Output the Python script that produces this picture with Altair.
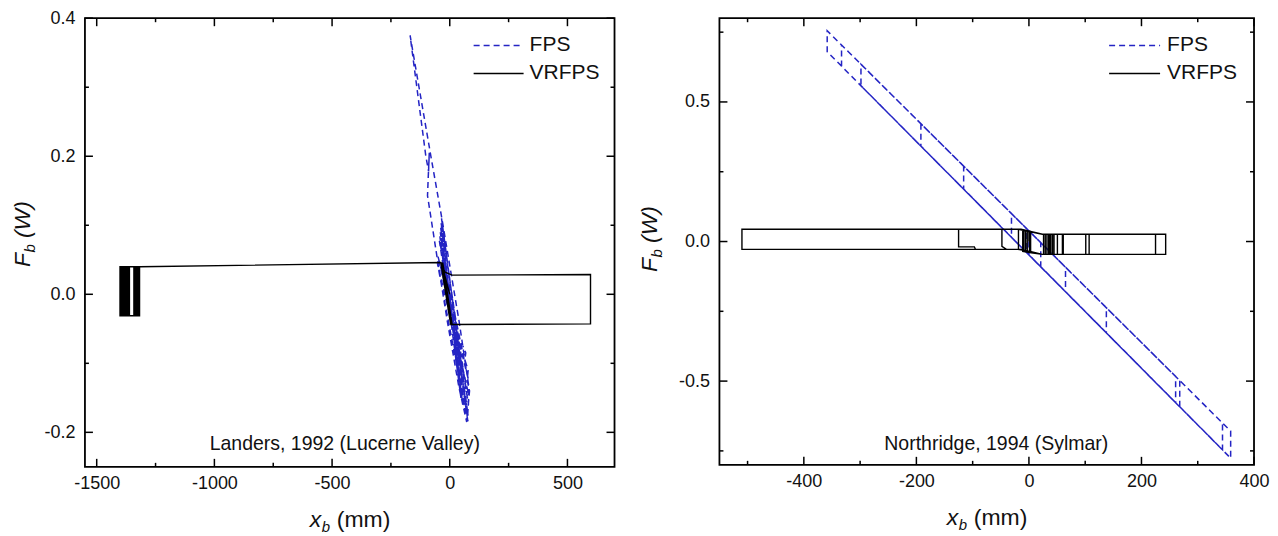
import altair as alt
import pandas as pd

FONT = "Liberation Sans"
BLUE = "#2424c4"
INK = "#111111"

# ---------------- Landers, 1992 (Lucerne Valley) ----------------
LANDERS_FPS_X = [0, 80, -37, 55, -40, 77, -35, 78, -42, 47.5, -38.5, 65, -44, 80, -50, 80, -52.5, 75,
                 82, 40, -31, -80.7, -168.5, -130, -102, -90, -87, -92, -94.5, -50, -9.9, 39.7, 72,
                 84, 74, 78, 64, 68, 56]
LANDERS_FPS_F = [0.000, -0.160, 0.104, -0.160, 0.090, -0.184, 0.110, -0.176, 0.084, -0.150, 0.097, -0.170,
                 0.0775, -0.125, 0.055, -0.145, 0.045, -0.184,
                 -0.136, -0.040, 0.105, 0.201, 0.375, 0.274, 0.201, 0.178, 0.205, 0.165, 0.143, 0.045,
                 -0.040, -0.136, -0.185,
                 -0.140, -0.125, -0.110, -0.095, -0.085, -0.075]

LANDERS_VR_X = [0, -36, 8, -30, 4, -34, 10, -28, 2, -38, 6,
                10, 598, 598, 10, -20, -38, -1317,
                -1401, -1401, -1318, -1318, -1396.5, -1396.5, -1322, -1322,
                -1392, -1392, -1326, -1326, -1387.5, -1387.5, -1330, -1330,
                -1383, -1383, -1334, -1334, -1378.5, -1378.5, -1338, -1338,
                -1374, -1374, -1342, -1342, -1369.5, -1369.5, -1361, -1361,
                -1365, -1365]
LANDERS_VR_F = [0.000, 0.046, -0.044, 0.046, -0.044, 0.046, -0.044, 0.042, -0.040, 0.046, -0.044,
                -0.0437, -0.0428, 0.0287, 0.0278, 0.032, 0.046, 0.040,
                0.040, -0.031, -0.031, 0.040, 0.040, -0.031, -0.031, 0.040,
                0.040, -0.031, -0.031, 0.040, 0.040, -0.031, -0.031, 0.040,
                0.040, -0.031, -0.031, 0.040, 0.040, -0.031, -0.031, 0.040,
                0.040, -0.031, -0.031, 0.040, 0.040, -0.031, -0.031, 0.040,
                0.040, -0.031]

# ---------------- Northridge, 1994 (Sylmar) ----------------
NORTH_FPS_X = [0, 0, 21, 21, -5, -5, 65, 65, -31, -31, 137.6, 137.6, -116, -116,
               260.7, 260.7, -192, -192, 268, 268, -298.5, -298.5, 344, 344,
               -333, -333, 358.5, 358.5, -358.5, -358.5, 330]
NORTH_FPS_F = [0.000, -0.048, -0.091, -0.004, 0.048, -0.038, -0.180, -0.092, 0.100, 0.015,
               -0.327, -0.237, 0.270, 0.188, -0.577, -0.483, 0.422, 0.342, -0.592, -0.498,
               0.635, 0.558, -0.746, -0.650, 0.704, 0.628, -0.776, -0.679, 0.755, 0.680, -0.718]

NORTH_VR_X = [0, 0, -3, -3, 2, 2, -6, -6, 3, 3, -9, -9, 1, 1, -11, -11,
              4, 24, 243, 243, 24, -14, -510, -510, -14, 4, 24, 225, 225, 24, -14,
              -125, -125, -97, -95, -14, 4, 24, 107, 107, 24, -14, -48, -48, -40, -14,
              4, 24, 101, 101, 50.6, 50.6, 59.5, 59.5, 24, -18.6, -18.6, 4, 24,
              61, 61, 26, 26, 44.6, 44.6, 29, 29, 42, 42, 32, 32, 39, 39, 35, 35, 37, 37]
NORTH_VR_F = [0.000, 0.038, 0.038, -0.037, -0.039, 0.037, 0.039, -0.036, -0.040, 0.036,
              0.040, -0.035, -0.038, 0.037, 0.040, -0.035,
              -0.040, -0.046, -0.046, 0.026, 0.026, 0.044, 0.044, -0.028, -0.028, -0.036,
              -0.046, -0.046, 0.026, 0.026, 0.044,
              0.044, -0.019, -0.019, -0.028, -0.028, -0.036, -0.046, -0.046, 0.026, 0.026,
              0.044, 0.044, -0.017, -0.028, -0.028,
              -0.036, -0.046, -0.046, 0.026, 0.026, -0.046, -0.046, 0.026, 0.026, 0.044,
              -0.028, -0.036, -0.046,
              -0.046, 0.026, 0.026, -0.046, -0.046, 0.026, 0.026, -0.046, -0.046, 0.026,
              0.026, -0.046, -0.046, 0.026, 0.026, -0.046, -0.046, 0.026]

# ---------------- axes ----------------
L_XDOM = [-1550, 700]
L_YDOM = [-0.25, 0.4]
L_XMAJ = [-1500, -1000, -500, 0, 500]
L_XMIN = [-1250, -750, -250, 250]
L_YMAJ = [-0.2, 0.0, 0.2, 0.4]
L_YMIN = [-0.1, 0.1, 0.3]

N_XDOM = [-550, 400]
N_YDOM = [-0.8, 0.8]
N_XMAJ = [-400, -200, 0, 200, 400]
N_XMIN = [-500, -300, -100, 100, 300]
N_YMAJ = [-0.5, 0.0, 0.5]
N_YMIN = [-0.75, -0.25, 0.25, 0.75]

SERIES = ["FPS", "VRFPS"]
NOTES = ["Landers, 1992 (Lucerne Valley)", "Northridge, 1994 (Sylmar)"]


def path_df(xs, fs):
    return pd.DataFrame({"x": xs, "f": fs, "i": list(range(len(xs)))})


def one(**kw):
    return pd.DataFrame({k: [v] for k, v in kw.items()})


def panel(fps_x, fps_f, vr_x, vr_f, xdom, ydom, W, H, xmaj, xmin, ymaj, ymin,
          xfmt, yfmt, note, note_x, note_y, ytitle_bx, ytitle_c, leg_x0, leg_x1, leg_tx):
    xs = alt.Scale(domain=xdom, nice=False, zero=False)
    ys = alt.Scale(domain=ydom, nice=False, zero=False)
    xax = alt.Axis(values=xmaj, title=None,
                   labelExpr="(datum.value < 0 ? '-' : '') + format(abs(datum.value), '%s')" % xfmt)
    yax = alt.Axis(values=ymaj, title=None,
                   labelExpr="(datum.value < 0 ? '-' : '') + format(abs(datum.value), '%s')" % yfmt)
    X = lambda f: alt.X(f, scale=xs, axis=xax)
    Y = lambda f: alt.Y(f, scale=ys, axis=yax)

    layers = []
    layers.append(alt.Chart(path_df(fps_x, fps_f)).mark_line(
        color=BLUE, strokeWidth=1.5, strokeDash=[6, 4]).encode(
        x=X("x:Q"), y=Y("f:Q"), order="i:Q"))
    layers.append(alt.Chart(path_df(vr_x, vr_f)).mark_line(
        color="black", strokeWidth=1.4).encode(
        x=X("x:Q"), y=Y("f:Q"), order="i:Q"))

    # inward ticks on all four sides
    for vals, ln in ((xmaj, 8), (xmin, 4)):
        d = pd.DataFrame({"v": vals})
        layers.append(alt.Chart(d).mark_rule(color="black", strokeWidth=1.5).encode(
            x=X("v:Q"), y=alt.value(H), y2=alt.value(H - ln)))
        layers.append(alt.Chart(d).mark_rule(color="black", strokeWidth=1.5).encode(
            x=X("v:Q"), y=alt.value(0), y2=alt.value(ln)))
    for vals, ln in ((ymaj, 8), (ymin, 4)):
        d = pd.DataFrame({"v": vals})
        layers.append(alt.Chart(d).mark_rule(color="black", strokeWidth=1.5).encode(
            y=Y("v:Q"), x=alt.value(0), x2=alt.value(ln)))
        layers.append(alt.Chart(d).mark_rule(color="black", strokeWidth=1.5).encode(
            y=Y("v:Q"), x=alt.value(W), x2=alt.value(W - ln)))

    # annotation
    layers.append(alt.Chart(one(x=note_x, f=note_y, t=note)).mark_text(
        font=FONT, fontSize=19.5, color=INK, align="center", baseline="alphabetic").encode(
        x=X("x:Q"), y=Y("f:Q"), text="t:N"))

    # legend
    rows = [(SERIES[0], BLUE, [6, 4], 27.3), (SERIES[1], "black", [1, 0], 55.3)]
    for name, col, dash, yy in rows:
        layers.append(alt.Chart(one(t=name)).mark_rule(
            color=col, strokeWidth=1.6, strokeDash=dash).encode(
            x=alt.value(leg_x0), x2=alt.value(leg_x1), y=alt.value(yy)))
        layers.append(alt.Chart(one(t=name)).mark_text(
            font=FONT, fontSize=21, color=INK, align="left", baseline="middle").encode(
            x=alt.value(leg_tx), y=alt.value(yy), text="t:N"))

    # x title: x_b (mm)
    sx = W / 2 - 40
    by = H + 60
    layers.append(alt.Chart(one(t="x")).mark_text(
        font=FONT, fontSize=23, fontStyle="italic", color=INK, align="left", baseline="alphabetic").encode(
        x=alt.value(sx), y=alt.value(by), text="t:N"))
    layers.append(alt.Chart(one(t="b")).mark_text(
        font=FONT, fontSize=15, fontStyle="italic", color=INK, align="left", baseline="alphabetic").encode(
        x=alt.value(sx + 12), y=alt.value(by + 5), text="t:N"))
    layers.append(alt.Chart(one(t="(mm)")).mark_text(
        font=FONT, fontSize=23, color=INK, align="left", baseline="alphabetic").encode(
        x=alt.value(sx + 27), y=alt.value(by), text="t:N"))

    # y title: F_b (W), rotated
    c = ytitle_c
    layers.append(alt.Chart(one(t="F")).mark_text(
        font=FONT, fontSize=23, fontStyle="italic", color=INK, align="left", baseline="alphabetic",
        angle=270).encode(x=alt.value(ytitle_bx), y=alt.value(c + 32), text="t:N"))
    layers.append(alt.Chart(one(t="b")).mark_text(
        font=FONT, fontSize=15, fontStyle="italic", color=INK, align="left", baseline="alphabetic",
        angle=270).encode(x=alt.value(ytitle_bx + 5), y=alt.value(c + 32 - 14.5), text="t:N"))
    layers.append(alt.Chart(one(t="(W)")).mark_text(
        font=FONT, fontSize=23, fontStyle="italic", color=INK, align="left", baseline="alphabetic",
        angle=270).encode(x=alt.value(ytitle_bx), y=alt.value(c + 32 - 29), text="t:N"))

    return alt.layer(*layers).properties(width=W, height=H)


left = panel(LANDERS_FPS_X, LANDERS_FPS_F, LANDERS_VR_X, LANDERS_VR_F, L_XDOM, L_YDOM,
             530, 449, L_XMAJ, L_XMIN, L_YMAJ, L_YMIN, "d", ".1f",
             NOTES[0], -446, -0.2253, -55, 217, 389, 439, 445)
right = panel(NORTH_FPS_X, NORTH_FPS_F, NORTH_VR_X, NORTH_VR_F, N_XDOM, N_YDOM,
              535, 447, N_XMAJ, N_XMIN, N_YMAJ, N_YMIN, "d", ".1f",
              NOTES[1], -58, -0.746, -62, 222, 390, 441, 448)

chart = alt.hconcat(left, right, spacing=105, bounds="flush").properties(
    padding={"left": 3, "top": 0, "right": 0, "bottom": 0}
).configure_view(
    stroke="black", strokeWidth=1.8
).configure_axis(
    labelFont=FONT, labelFontSize=18, labelColor=INK, ticks=False, tickSize=0,
    domain=False, grid=False, labelFlush=False, labelOverlap=False
).configure_axisX(labelPadding=8).configure_axisY(labelPadding=10)

chart.save("out.html", embed_options={"renderer": "svg", "actions": False})
